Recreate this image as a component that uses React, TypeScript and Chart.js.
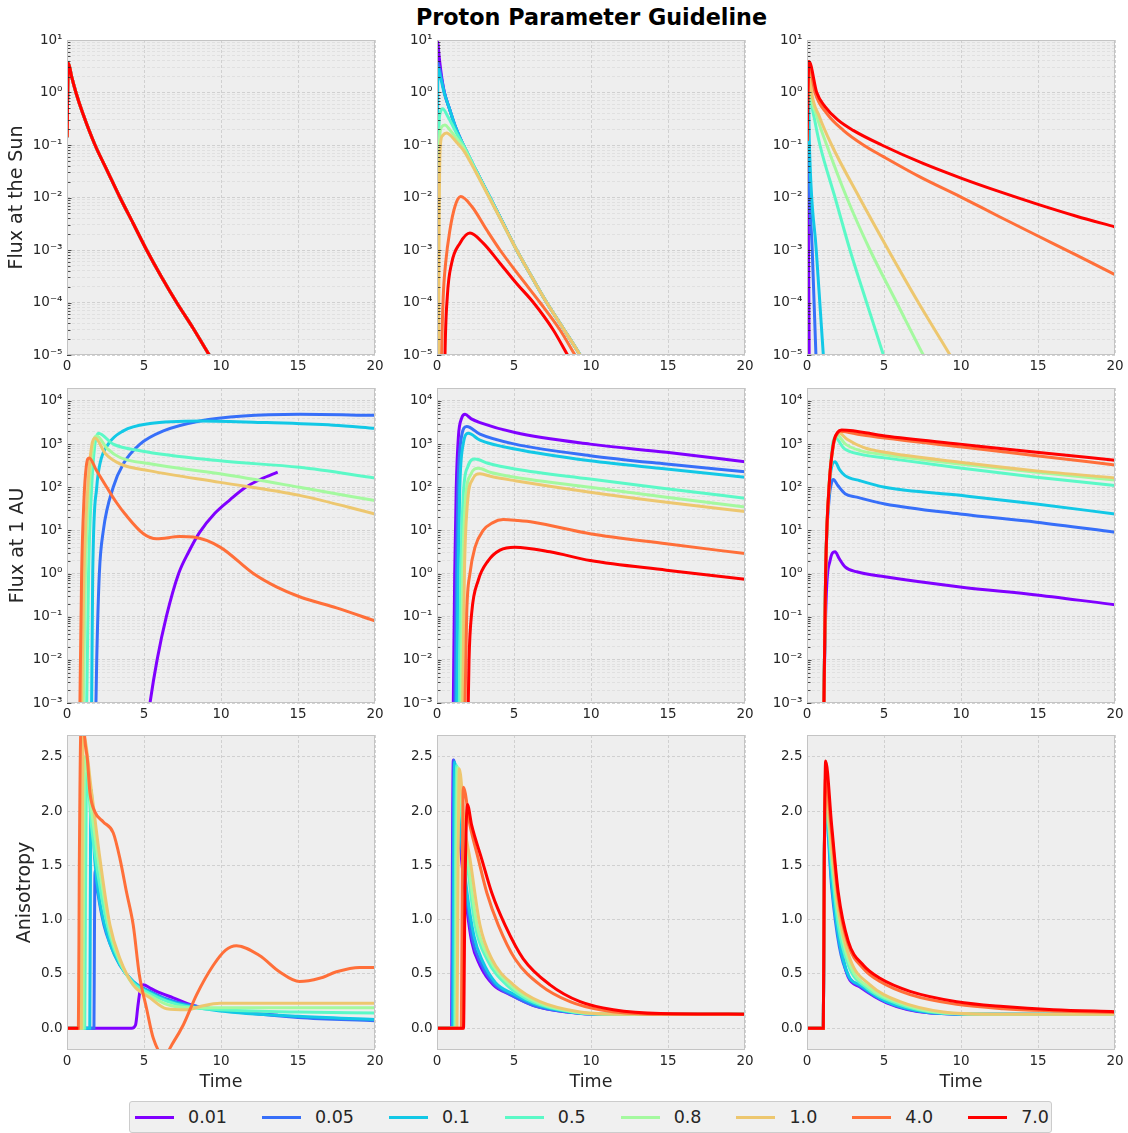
import React, { useEffect, useRef } from "react";
import { Chart, registerables } from "chart.js";

Chart.register(...registerables);
Chart.defaults.font.family = "'DejaVu Sans', sans-serif";

// ---------- series meta ----------
const seriesLabels = ["0.01", "0.05", "0.1", "0.5", "0.8", "1.0", "4.0", "7.0"];
const seriesColors = ["#8000ff", "#376ff9", "#12c8e6", "#5bf9c7", "#a4f99f", "#edc76f", "#ff6f39", "#ff0000"];

// ---------- tick labels ----------
const timeTicks = [0, 5, 10, 15, 20];
const sunDecades = [-5, -4, -3, -2, -1, 0, 1];
const auDecades = [-3, -2, -1, 0, 1, 2, 3, 4];
const anisotropyTicks = [0, 0.5, 1, 1.5, 2, 2.5];

// ---------- Flux at the Sun (left column: all series coincide) ----------
const sunLeftAll = [[0, 0.14], [0.09, 3.6], [0.3, 2.0], [0.58, 1.0], [1.0, 0.42], [1.82, 0.1], [2.6, 0.033], [3.44, 0.01], [4.3, 3.2e-3], [5.17, 1e-3], [6.1, 3.2e-4], [7.12, 1e-4], [8.2, 3.2e-5], [9.24, 1e-5], [10.5, 2.5e-6]];

// ---------- Flux at the Sun (middle column) ----------
const sunMid001 = [[0, 1e-6], [0.03, 9.5], [0.15, 4.5], [0.3, 2.0], [0.48, 1.0], [0.8, 0.5], [1.2, 0.22], [1.71, 0.1], [2.56, 0.0316], [3.44, 0.01], [4.3, 3.2e-3], [5.17, 1e-3], [6.12, 3.2e-4], [7.12, 1e-4], [8.2, 3.2e-5], [9.29, 1e-5], [10.5, 2.5e-6]];
const sunMid005 = [[0, 1e-6], [0.04, 3.7], [0.15, 3.0], [0.3, 1.8], [0.48, 1.0], [0.8, 0.5], [1.2, 0.22], [1.71, 0.1], [2.56, 0.0316], [3.44, 0.01], [4.3, 3.2e-3], [5.17, 1e-3], [6.12, 3.2e-4], [7.12, 1e-4], [8.2, 3.2e-5], [9.29, 1e-5], [10.5, 2.5e-6]];
const sunMid01 = [[0, 1e-6], [0.06, 3.0], [0.15, 2.4], [0.3, 1.6], [0.48, 0.95], [0.8, 0.5], [1.2, 0.22], [1.71, 0.1], [2.56, 0.0316], [3.44, 0.01], [4.3, 3.2e-3], [5.17, 1e-3], [6.12, 3.2e-4], [7.12, 1e-4], [8.2, 3.2e-5], [9.29, 1e-5], [10.5, 2.5e-6]];
const sunMid05 = [[0.04, 1e-6], [0.1, 0.1], [0.2, 0.4], [0.37, 0.49], [0.7, 0.35], [1.0, 0.24], [1.3, 0.16], [1.71, 0.1], [2.56, 0.0316], [3.44, 0.01], [4.3, 3.2e-3], [5.17, 1e-3], [6.12, 3.2e-4], [7.12, 1e-4], [8.2, 3.2e-5], [9.29, 1e-5], [10.5, 2.5e-6]];
const sunMid08 = [[0.06, 1e-6], [0.1, 0.01], [0.18, 0.15], [0.3, 0.22], [0.52, 0.24], [0.8, 0.2], [1.0, 0.17], [1.3, 0.13], [1.71, 0.09], [2.56, 0.03], [3.44, 0.0095], [4.3, 3.1e-3], [5.17, 1e-3], [6.12, 3.2e-4], [7.12, 1e-4], [8.2, 3.2e-5], [9.29, 1e-5], [10.5, 2.5e-6]];
const sunMid10 = [[0.09, 1e-6], [0.13, 1e-3], [0.2, 0.08], [0.35, 0.15], [0.63, 0.17], [1.0, 0.14], [1.3, 0.11], [1.71, 0.08], [2.56, 0.029], [3.44, 0.0093], [4.3, 3.1e-3], [5.17, 1e-3], [6.12, 3.2e-4], [7.12, 1e-4], [8.2, 3.2e-5], [9.29, 1e-5], [10.5, 2.5e-6]];
const sunMid40 = [[0.25, 1e-6], [0.3, 1e-5], [0.4, 1.2e-4], [0.56, 5.6e-4], [0.84, 2.4e-3], [1.17, 6.8e-3], [1.54, 0.0104], [2.25, 6.8e-3], [3.23, 2.4e-3], [4.09, 1e-3], [5.39, 3.1e-4], [6.69, 1e-4], [7.99, 3e-5], [8.96, 1e-5], [10, 3e-6]];
const sunMid70 = [[0.48, 1e-6], [0.52, 1e-5], [0.67, 1.3e-4], [0.95, 5.6e-4], [1.49, 1.35e-3], [2.14, 2.1e-3], [3.0, 1.35e-3], [4.09, 5.6e-4], [5.17, 2.3e-4], [6.26, 1e-4], [7.55, 3e-5], [8.48, 1e-5], [9.5, 3e-6]];

// ---------- Flux at the Sun (right column) ----------
const sunRight001 = [[0, 0.12], [0.03, 3.5], [0.06, 0.05], [0.12, 1e-4], [0.16, 1e-6]];
const sunRight005 = [[0, 0.12], [0.05, 3.7], [0.1, 0.1], [0.34, 1e-3], [0.58, 1e-5], [0.7, 1e-6]];
const sunRight01 = [[0, 0.12], [0.06, 3.8], [0.15, 0.12], [0.6, 1e-3], [1.06, 1e-5], [1.2, 2e-6]];
const sunRight05 = [[0, 0.12], [0.08, 3.8], [0.2, 1.0], [0.5, 0.3], [0.84, 0.1], [1.82, 0.01], [2.79, 1e-3], [3.87, 1e-4], [4.96, 1e-5], [5.5, 3e-6]];
const sunRight08 = [[0, 0.12], [0.09, 3.8], [0.24, 1.0], [0.6, 0.38], [1.28, 0.1], [2.58, 0.01], [4.09, 1e-3], [5.82, 1e-4], [7.55, 1e-5], [8.5, 3e-6]];
const sunRight10 = [[0, 0.12], [0.1, 3.8], [0.3, 1.0], [0.8, 0.35], [1.6, 0.1], [3.4, 0.01], [5.28, 1e-3], [7.23, 1e-4], [9.29, 1e-5], [10.5, 2.5e-6]];
const sunRight40 = [[0, 0.12], [0.11, 3.8], [0.52, 1.0], [1.28, 0.4], [2.36, 0.19], [3.66, 0.1], [4.96, 0.06], [7.3, 0.025], [10, 0.0102], [12.5, 4.3e-3], [15, 1.85e-3], [17.5, 8e-4], [20, 3.4e-4]];
const sunRight70 = [[0, 0.12], [0.13, 3.9], [0.63, 1.0], [1.17, 0.54], [2.0, 0.3], [3.0, 0.19], [4.85, 0.1], [7.5, 0.045], [10, 0.0234], [12.5, 0.0129], [15, 7.4e-3], [17.5, 4.4e-3], [20, 2.75e-3]];

// ---------- Flux at 1 AU (left column) ----------
const auLeft001 = [[5.2, 3e-4], [5.39, 1e-3], [5.85, 0.01], [6.45, 0.1], [7.25, 1], [7.9, 3.16], [8.6, 8.9], [9.6, 25], [10.6, 52], [11.6, 100], [12.6, 155], [13.68, 224]];
const auLeft005 = [[1.85, 1e-4], [1.88, 1e-3], [1.93, 0.01], [2.1, 1], [2.36, 10], [3.0, 100], [3.66, 350], [4.74, 1000], [6.26, 2030], [8.64, 3450], [11.45, 4500], [15.1, 4900], [20, 4650]];
const auLeft01 = [[1.57, 1e-4], [1.6, 1e-3], [1.67, 1], [1.93, 100], [2.14, 350], [2.68, 1000], [3.66, 2030], [5.39, 3000], [8.64, 3450], [12.97, 3160], [17.3, 2750], [20, 2330]];
const auLeft05 = [[1.25, 1e-4], [1.28, 1e-3], [1.4, 1], [1.6, 100], [1.8, 900], [2.03, 1780], [3.0, 1000], [4.74, 700], [9.94, 410], [15.1, 290], [20, 165]];
const auLeft08 = [[1.03, 1e-4], [1.06, 1e-3], [1.2, 1], [1.45, 100], [1.7, 1000], [1.93, 1550], [2.6, 800], [3.44, 490], [5.39, 350], [9.94, 205], [15.1, 100], [20, 49]];
const auLeft10 = [[0.92, 1e-4], [0.95, 1e-3], [1.1, 1], [1.35, 100], [1.6, 900], [1.82, 1380], [2.5, 600], [3.44, 350], [5.39, 240], [9.94, 130], [15.1, 65], [20, 24]];
const auLeft40 = [[0.81, 1e-4], [0.84, 1e-3], [0.95, 1], [1.1, 50], [1.25, 300], [1.45, 480], [1.9, 250], [2.58, 100], [3.2, 45], [3.77, 24], [4.96, 8.4], [5.82, 6.4], [7.34, 7.2], [8.2, 7], [9.94, 4.1], [12.1, 1.0], [13.6, 0.49], [15.1, 0.29], [17.5, 0.16], [20, 0.08]];
const auLeft70: number[][] = [];

// ---------- Flux at 1 AU (middle column) ----------
const auMid001 = [[1.03, 1e-4], [1.06, 1e-3], [1.15, 1], [1.25, 100], [1.39, 1500], [1.6, 4000], [1.82, 4900], [2.2, 3900], [2.79, 3160], [5.06, 1860], [9.94, 1000], [14.9, 645], [20, 390]];
const auMid005 = [[1.14, 1e-4], [1.17, 1e-3], [1.26, 1], [1.36, 100], [1.55, 1200], [1.93, 2560], [2.79, 1700], [5.06, 1000], [9.94, 540], [14.9, 345], [20, 230]];
const auMid01 = [[1.25, 1e-4], [1.28, 1e-3], [1.37, 1], [1.48, 100], [1.7, 1000], [2.03, 1780], [2.79, 1240], [5.06, 770], [9.94, 410], [14.9, 265], [20, 170]];
const auMid05 = [[1.42, 1e-4], [1.45, 1e-3], [1.55, 1], [1.7, 60], [2.0, 300], [2.47, 450], [3.3, 360], [5.06, 265], [9.94, 155], [14.9, 92], [20, 56]];
const auMid08 = [[1.53, 1e-4], [1.56, 1e-3], [1.67, 1], [1.85, 50], [2.2, 200], [2.68, 275], [3.5, 220], [5.06, 170], [9.94, 100], [14.9, 59], [20, 35]];
const auMid10 = [[1.64, 1e-4], [1.67, 1e-3], [1.78, 1], [1.97, 40], [2.3, 150], [2.79, 205], [3.6, 175], [5.06, 142], [9.94, 77], [14.9, 45], [20, 27.5]];
const auMid40 = [[1.79, 1e-4], [1.82, 1e-3], [1.93, 0.12], [2.14, 1], [2.47, 4.1], [3.0, 10], [3.6, 15], [4.3, 17.8], [5.2, 17], [6.26, 15.5], [9.94, 8.4], [14.9, 4.9], [20, 2.9]];
const auMid70 = [[2.0, 1e-4], [2.03, 1e-3], [2.08, 0.01], [2.25, 0.12], [2.68, 0.7], [3.33, 2.0], [4.09, 3.5], [5.06, 4.1], [7.34, 3.2], [9.94, 2.0], [14.9, 1.2], [20, 0.74]];

// ---------- Flux at 1 AU (right column) ----------
const auRight001 = [[1.07, 1e-4], [1.1, 1e-3], [1.25, 0.3], [1.5, 2], [1.82, 3.2], [2.1, 2.2], [2.47, 1.43], [3.23, 1.1], [5.06, 0.84], [9.94, 0.49], [14.9, 0.32], [20, 0.19]];
const auRight005 = [[1.07, 1e-4], [1.1, 1e-3], [1.21, 1], [1.43, 50], [1.6, 130], [1.71, 152], [2.0, 110], [2.47, 71], [3.23, 59], [5.06, 41], [9.94, 24], [14.9, 15.5], [20, 9.1]];
const auRight01 = [[1.07, 1e-4], [1.1, 1e-3], [1.21, 1], [1.43, 80], [1.6, 300], [1.82, 390], [2.1, 260], [2.47, 186], [3.44, 142], [5.06, 100], [9.94, 65], [14.9, 41], [20, 24]];
const auRight05 = [[1.07, 1e-4], [1.1, 1e-3], [1.21, 1], [1.43, 100], [1.65, 900], [1.82, 1420], [2.4, 800], [3.5, 580], [5.06, 480], [9.94, 280], [14.9, 170], [20, 110]];
const auRight08 = [[1.07, 1e-4], [1.1, 1e-3], [1.21, 1], [1.43, 100], [1.7, 900], [1.93, 1640], [2.5, 1000], [3.5, 700], [5.06, 570], [9.94, 345], [14.9, 222], [20, 148]];
const auRight10 = [[1.07, 1e-4], [1.1, 1e-3], [1.21, 1], [1.43, 100], [1.71, 900], [2.03, 1860], [2.6, 1300], [3.66, 840], [5.06, 645], [9.94, 380], [14.9, 240], [20, 165]];
const auRight40 = [[1.07, 1e-4], [1.1, 1e-3], [1.21, 1], [1.43, 100], [1.71, 950], [2.0, 1800], [2.15, 2000], [3.5, 1650], [5.06, 1380], [9.94, 870], [14.9, 540], [20, 330]];
const auRight70 = [[1.07, 1e-4], [1.1, 1e-3], [1.21, 1], [1.43, 100], [1.71, 1000], [2.0, 1900], [2.25, 2140], [5.06, 1550], [9.94, 1000], [14.9, 645], [20, 425]];

// ---------- Anisotropy (left column) ----------
const anLeft001 = [[0, 0], [4.2, 0], [4.45, 0.03], [4.6, 0.2], [4.75, 0.35], [4.96, 0.4], [5.4, 0.37], [5.82, 0.34], [6.9, 0.28], [8.2, 0.21], [9.94, 0.17], [12, 0.14], [13.7, 0.12]];
const anLeft005 = [[0, 0], [1.75, 0], [1.78, 0.8], [1.82, 1.45], [2.0, 1.25], [2.4, 0.95], [2.79, 0.78], [3.44, 0.58], [4.3, 0.43], [5.39, 0.34], [6.47, 0.27], [7.77, 0.22], [9.94, 0.17], [15, 0.1], [20, 0.07]];
const anLeft01 = [[0, 0], [1.48, 0], [1.51, 1.0], [1.55, 2.2], [1.8, 1.55], [2.14, 1.15], [2.79, 0.78], [3.44, 0.58], [4.3, 0.43], [5.39, 0.33], [6.47, 0.26], [7.77, 0.21], [9.94, 0.16], [15, 0.11], [20, 0.08]];
const anLeft05 = [[0, 0], [1.15, 0], [1.2, 1.2], [1.28, 2.35], [1.6, 1.85], [2.14, 1.3], [2.79, 0.85], [3.44, 0.6], [4.3, 0.42], [5.39, 0.32], [6.47, 0.25], [7.77, 0.2], [9.94, 0.17], [15, 0.15], [20, 0.14]];
const anLeft08 = [[0, 0], [1.04, 0], [1.08, 1.4], [1.15, 2.5], [1.6, 2.0], [2.14, 1.45], [2.79, 0.9], [3.44, 0.62], [4.3, 0.4], [5.39, 0.3], [6.47, 0.22], [7.77, 0.19], [9.94, 0.19], [20, 0.19]];
const anLeft10 = [[0, 0], [0.93, 0], [0.98, 1.5], [1.06, 2.7], [1.6, 2.17], [2.14, 1.56], [2.79, 0.95], [3.44, 0.64], [4.3, 0.4], [5.39, 0.28], [6.47, 0.18], [7.77, 0.17], [8.64, 0.2], [9.94, 0.23], [20, 0.23]];
const anLeft40 = [[0, 0], [0.74, 0], [0.8, 1.5], [0.9, 2.75], [1.05, 2.8], [1.2, 2.6], [1.32, 2.48], [1.49, 2.17], [1.82, 1.99], [2.36, 1.9], [3.0, 1.8], [3.44, 1.56], [3.87, 1.25], [4.3, 0.95], [4.7, 0.49], [5.17, 0.18], [5.6, -0.09], [6.3, -0.25], [6.9, -0.13], [7.55, 0.03], [8.42, 0.31], [9.5, 0.58], [10.3, 0.72], [11.0, 0.76], [12.5, 0.67], [13.8, 0.52], [15.1, 0.43], [16.4, 0.46], [17.5, 0.52], [19.0, 0.56], [20, 0.56]];
const anLeft70 = [[0, 0], [0.74, 0]];

// ---------- Anisotropy (middle column) ----------
const anMid001 = [[0, 0], [0.95, 0], [1.0, 1.5], [1.06, 2.47], [1.39, 1.87], [1.82, 1.25], [2.25, 0.8], [2.79, 0.58], [3.66, 0.4], [4.74, 0.31], [6.26, 0.21], [8.42, 0.15], [10.6, 0.13], [20, 0.13]];
const anMid005 = [[0, 0], [0.98, 0], [1.04, 1.5], [1.1, 2.47], [1.45, 1.87], [1.88, 1.25], [2.3, 0.82], [2.85, 0.6], [3.7, 0.41], [4.8, 0.31], [6.3, 0.21], [8.5, 0.15], [10.8, 0.13], [20, 0.13]];
const anMid01 = [[0, 0], [1.03, 0], [1.09, 1.5], [1.15, 2.45], [1.5, 1.87], [1.95, 1.25], [2.4, 0.85], [2.95, 0.62], [3.8, 0.42], [4.9, 0.32], [6.4, 0.22], [8.6, 0.15], [11, 0.13], [20, 0.13]];
const anMid05 = [[0, 0], [1.15, 0], [1.2, 1.5], [1.28, 2.42], [1.6, 1.95], [1.93, 1.56], [2.47, 0.95], [3.23, 0.64], [4.52, 0.4], [6.26, 0.24], [8.85, 0.15], [11.5, 0.13], [20, 0.13]];
const anMid08 = [[0, 0], [1.22, 0], [1.28, 1.5], [1.36, 2.4], [1.7, 1.9], [2.05, 1.5], [2.6, 0.95], [3.4, 0.64], [4.75, 0.4], [6.5, 0.24], [9.0, 0.15], [12, 0.13], [20, 0.13]];
const anMid10 = [[0, 0], [1.3, 0], [1.37, 1.5], [1.45, 2.39], [1.8, 1.85], [2.14, 1.56], [2.79, 0.95], [3.55, 0.64], [4.96, 0.4], [6.69, 0.245], [9.29, 0.15], [12, 0.13], [20, 0.13]];
const anMid40 = [[0, 0], [1.58, 0], [1.65, 1.5], [1.71, 2.22], [2.14, 1.87], [2.68, 1.56], [3.23, 1.25], [3.98, 0.95], [5.06, 0.64], [6.69, 0.4], [8.64, 0.245], [10.6, 0.17], [14, 0.13], [20, 0.13]];
const anMid70 = [[0, 0], [1.72, 0], [1.82, 1.3], [1.97, 2.06], [2.25, 1.87], [2.9, 1.56], [3.55, 1.25], [4.42, 0.95], [5.6, 0.64], [7.34, 0.4], [9.29, 0.245], [11.45, 0.17], [14.5, 0.135], [20, 0.13]];

// ---------- Anisotropy (right column) ----------
const anRight001 = [[0, 0], [1.06, 0], [1.12, 1.5], [1.2, 2.0], [1.82, 1.25], [2.36, 0.64], [2.68, 0.47], [3.44, 0.38], [5.17, 0.235], [7.77, 0.145], [11, 0.13], [20, 0.13]];
const anRight005 = [[0, 0], [1.06, 0], [1.12, 1.5], [1.2, 2.05], [1.6, 1.3], [2.1, 0.75], [2.68, 0.48], [3.44, 0.39], [5.17, 0.24], [7.77, 0.145], [11, 0.13], [20, 0.13]];
const anRight01 = [[0, 0], [1.06, 0], [1.12, 1.5], [1.2, 2.1], [1.6, 1.35], [2.1, 0.8], [2.68, 0.49], [3.44, 0.4], [5.17, 0.245], [7.77, 0.15], [11, 0.13], [20, 0.13]];
const anRight05 = [[0, 0], [1.06, 0], [1.12, 1.5], [1.2, 2.1], [1.6, 1.5], [2.03, 0.95], [2.68, 0.58], [3.9, 0.37], [5.8, 0.23], [8.5, 0.145], [12, 0.13], [20, 0.13]];
const anRight08 = [[0, 0], [1.06, 0], [1.12, 1.5], [1.2, 2.15], [1.6, 1.6], [2.03, 1.05], [2.75, 0.6], [4.0, 0.38], [6.0, 0.235], [8.7, 0.145], [12, 0.13], [20, 0.13]];
const anRight10 = [[0, 0], [1.06, 0], [1.12, 1.5], [1.2, 2.2], [1.6, 1.65], [2.03, 1.1], [2.79, 0.64], [4.09, 0.4], [6.04, 0.245], [8.85, 0.15], [12, 0.13], [20, 0.13]];
const anRight40 = [[0, 0], [1.06, 0], [1.12, 1.5], [1.2, 2.3], [1.6, 1.8], [2.03, 1.2], [2.68, 0.77], [3.66, 0.55], [4.74, 0.43], [6.69, 0.31], [9.72, 0.22], [12.75, 0.18], [16, 0.16], [20, 0.145]];
const anRight70 = [[0, 0], [1.06, 0], [1.12, 1.5], [1.21, 2.46], [1.6, 1.87], [2.03, 1.25], [2.68, 0.8], [3.66, 0.58], [4.74, 0.46], [6.69, 0.34], [9.72, 0.245], [12.75, 0.2], [16, 0.17], [20, 0.153]];

// ---------- panel table ----------
const panels = [
  { row: 0, col: 0, series: [sunLeftAll, sunLeftAll, sunLeftAll, sunLeftAll, sunLeftAll, sunLeftAll, sunLeftAll, sunLeftAll] },
  { row: 0, col: 1, series: [sunMid001, sunMid005, sunMid01, sunMid05, sunMid08, sunMid10, sunMid40, sunMid70] },
  { row: 0, col: 2, series: [sunRight001, sunRight005, sunRight01, sunRight05, sunRight08, sunRight10, sunRight40, sunRight70] },
  { row: 1, col: 0, series: [auLeft001, auLeft005, auLeft01, auLeft05, auLeft08, auLeft10, auLeft40, auLeft70] },
  { row: 1, col: 1, series: [auMid001, auMid005, auMid01, auMid05, auMid08, auMid10, auMid40, auMid70] },
  { row: 1, col: 2, series: [auRight001, auRight005, auRight01, auRight05, auRight08, auRight10, auRight40, auRight70] },
  { row: 2, col: 0, series: [anLeft001, anLeft005, anLeft01, anLeft05, anLeft08, anLeft10, anLeft40, anLeft70] },
  { row: 2, col: 1, series: [anMid001, anMid005, anMid01, anMid05, anMid08, anMid10, anMid40, anMid70] },
  { row: 2, col: 2, series: [anRight001, anRight005, anRight01, anRight05, anRight08, anRight10, anRight40, anRight70] },
];

const rowTitles = ["Flux at the Sun", "Flux at 1 AU", "Anisotropy"];

// ---------- layout ----------
const COL_LEFT = [67, 437, 807];
const ROW_TOP = [40, 388, 735];
const PLOT_W = 308;
const PLOT_H = 315;
const Y_AXIS_W = 67;
const PAD_TOP = 12;
const PAD_RIGHT = 12;
const TITLE_PAD = [5.3, 6.6, 13.3];
const TEXT = "#262626";

const SUP: Record<string, string> = { "-": "\u207B", "0": "\u2070", "1": "\u00B9", "2": "\u00B2", "3": "\u00B3", "4": "\u2074", "5": "\u2075", "6": "\u2076", "7": "\u2077", "8": "\u2078", "9": "\u2079" };
const pow10Label = (d: number) => "10" + String(d).split("").map((c) => SUP[c]).join("");

function logTicks(decades: number[], max: number) {
  const out: { value: number; major: boolean; label: string }[] = [];
  decades.forEach((d) => {
    const base = Math.pow(10, d);
    if (base <= max * 1.0001) out.push({ value: base, major: true, label: pow10Label(d) });
    for (let k = 2; k <= 9; k++) {
      const v = Number((k * base).toPrecision(6));
      if (v <= max * 1.0001) out.push({ value: v, major: false, label: "" });
    }
  });
  return out;
}

function yConfig(row: number) {
  if (row === 0) return { type: "logarithmic", min: 1e-5, max: 10, ticks: logTicks(sunDecades, 10) };
  if (row === 1) return { type: "logarithmic", min: 1e-3, max: 2e4, ticks: logTicks(auDecades, 2e4) };
  return { type: "linear", min: -0.2, max: 2.7, ticks: anisotropyTicks.map((v) => ({ value: v, major: true, label: v.toFixed(1) })) };
}

const panelPlugin = {
  id: "panelDecor",
  beforeDraw(chart: any) {
    const { ctx, chartArea: a } = chart;
    ctx.save();
    ctx.fillStyle = "#eeeeee";
    ctx.fillRect(a.left, a.top, a.right - a.left, a.bottom - a.top);
    ctx.restore();
  },
  afterDraw(chart: any) {
    const { ctx, chartArea: a } = chart;
    const y = chart.scales.y;
    ctx.save();
    if (y.type === "logarithmic") {
      ctx.strokeStyle = "#222222";
      ctx.lineWidth = 0.8;
      y.ticks.forEach((t: any) => {
        const p = Math.round(y.getPixelForValue(t.value)) + 0.5;
        if (p < a.top - 0.5 || p > a.bottom + 0.5) return;
        const len = t.major ? 4.5 : 3.5;
        ctx.beginPath();
        ctx.moveTo(a.left, p);
        ctx.lineTo(a.left + len, p);
        ctx.stroke();
      });
    }
    ctx.strokeStyle = "#c4c4c4";
    ctx.lineWidth = 1;
    ctx.strokeRect(a.left + 0.5, a.top + 0.5, a.right - a.left - 1, a.bottom - a.top - 1);
    ctx.restore();
  },
};

function Panel({ row, col, series }: { row: number; col: number; series: number[][][] }) {
  const ref = useRef<HTMLCanvasElement>(null);
  const xAxisH = row === 2 ? 48 : 24;
  const W = Y_AXIS_W + PLOT_W + PAD_RIGHT;
  const H = PAD_TOP + PLOT_H + xAxisH;
  const left = COL_LEFT[col] - Y_AXIS_W;
  const top = ROW_TOP[row] - PAD_TOP;

  useEffect(() => {
    const yc = yConfig(row);
    const chart = new Chart(ref.current as HTMLCanvasElement, {
      type: "line",
      data: {
        datasets: series.map((pts, i) => ({
          label: seriesLabels[i],
          data: pts.map((p) => ({ x: p[0], y: p[1] })),
          borderColor: seriesColors[i],
          backgroundColor: seriesColors[i],
          borderWidth: 3,
          pointRadius: 0,
          fill: false,
          cubicInterpolationMode: "monotone",
          clip: 0,
          order: seriesLabels.length - i,
        })),
      },
      plugins: [panelPlugin],
      options: {
        animation: false,
        responsive: false,
        devicePixelRatio: 1,
        events: [],
        layout: { padding: { top: PAD_TOP, right: PAD_RIGHT, left: 0, bottom: 0 } },
        plugins: { legend: { display: false }, tooltip: { enabled: false }, title: { display: false } },
        scales: {
          x: {
            type: "linear",
            min: 0,
            max: 20,
            afterBuildTicks: (axis: any) => {
              axis.ticks = timeTicks.map((v) => ({ value: v }));
            },
            afterFit: (axis: any) => {
              axis.height = xAxisH;
              axis.paddingLeft = 0;
              axis.paddingRight = 0;
            },
            ticks: {
              autoSkip: false,
              maxRotation: 0,
              padding: 3.5,
              color: TEXT,
              font: { size: 13.5 },
              callback: (v: any) => String(v),
            },
            grid: { color: "#c8c8c8", lineWidth: 0.8, drawTicks: false },
            border: { display: false, dash: [3, 2] },
            title: {
              display: row === 2,
              text: "Time",
              color: TEXT,
              font: { size: 17.5 },
              padding: { top: 0, bottom: 5.5 },
            },
          },
          y: {
            type: yc.type as any,
            min: yc.min,
            max: yc.max,
            afterBuildTicks: (axis: any) => {
              axis.ticks = yc.ticks.map((t) => ({ value: t.value, major: t.major, label: t.label }));
            },
            afterFit: (axis: any) => {
              axis.width = Y_AXIS_W;
              axis.paddingTop = 0;
              axis.paddingBottom = 0;
            },
            ticks: {
              autoSkip: false,
              padding: 4.5,
              color: TEXT,
              font: { size: 13.5 },
              callback: (_v: any, i: number) => yc.ticks[i].label,
            },
            grid: {
              drawTicks: false,
              color: (c: any) => (c.tick && c.tick.major ? "#c8c8c8" : "#dadada"),
              lineWidth: (c: any) => (c.tick && c.tick.major ? 0.8 : 0.7),
            },
            border: { display: false, dash: [3, 2] },
            title: {
              display: col === 0,
              text: rowTitles[row],
              color: TEXT,
              font: { size: 19 },
              padding: { top: TITLE_PAD[row], bottom: 0 },
            },
          },
        },
      } as any,
    } as any);
    return () => chart.destroy();
  }, []);

  return (
    <canvas
      ref={ref}
      width={W}
      height={H}
      style={{ position: "absolute", left, top, width: W, height: H }}
    />
  );
}

export default function App() {
  return (
    <div
      style={{
        position: "absolute",
        left: 0,
        top: 0,
        width: 1128,
        height: 1133,
        background: "#ffffff",
        fontFamily: "'DejaVu Sans', sans-serif",
        overflow: "hidden",
      }}
    >
      <div
        style={{
          position: "absolute",
          left: 341.5,
          top: 4,
          width: 500,
          textAlign: "center",
          fontSize: 22.3,
          lineHeight: "26px",
          fontWeight: "bold",
          color: "#000",
        }}
      >
        Proton Parameter Guideline
      </div>
      {panels.map((p, i) => (
        <Panel key={i} row={p.row} col={p.col} series={p.series} />
      ))}
      <div
        style={{
          position: "absolute",
          left: 129,
          top: 1101,
          width: 923,
          height: 32,
          boxSizing: "border-box",
          border: "1px solid #cccccc",
          borderRadius: 3,
          background: "#f0f0f0",
          display: "flex",
          alignItems: "center",
          paddingLeft: 5,
        }}
      >
        {seriesLabels.map((lab, i) => (
          <div key={lab} style={{ display: "flex", alignItems: "center", marginRight: i < seriesLabels.length - 1 ? 35 : 0 }}>
            <span style={{ display: "inline-block", width: 39, height: 3, background: seriesColors[i], marginRight: 14 }} />
            <span style={{ fontSize: 17.5, lineHeight: "20px", color: TEXT }}>{lab}</span>
          </div>
        ))}
      </div>
    </div>
  );
}
